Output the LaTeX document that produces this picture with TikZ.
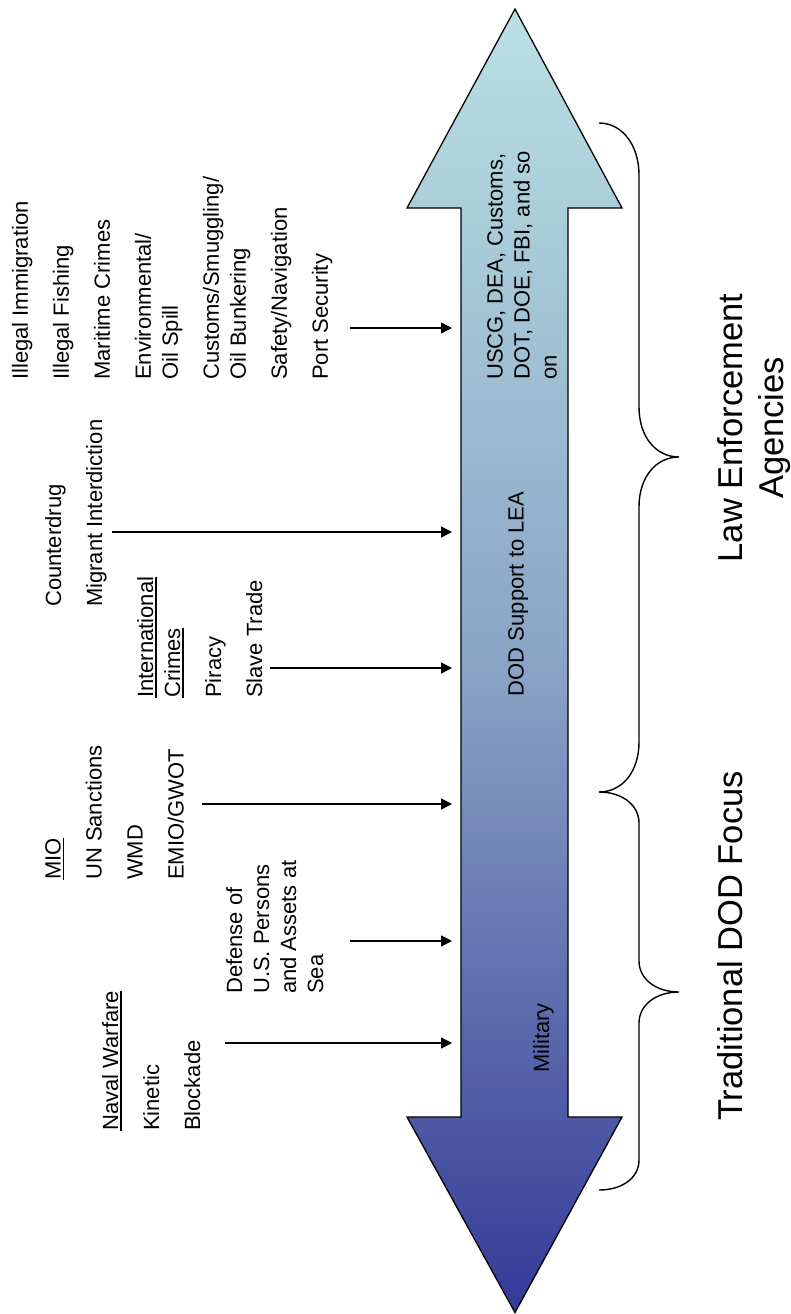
\documentclass[tikz,border=0pt]{standalone}
\usepackage{fontspec}
\setmainfont{Liberation Sans}
\usepackage{tikz}
\usetikzlibrary{arrows.meta}
\definecolor{leaCyan}{RGB}{186,224,228}
\definecolor{midSteel}{RGB}{138,164,197}
\definecolor{milBlue}{RGB}{52,58,152}

\newcommand{\ulhead}[1]{\leavevmode\setbox0=\hbox{#1}\rlap{\vrule height -2.2pt depth 3.9pt width \wd0}\box0}

\begin{document}
\begin{tikzpicture}[
        x=1pt, y=-1pt,
        font=\fontsize{22}{27}\selectfont,
        mission/.style={
          rotate=90, anchor=north west,
          align=left, inner sep=0pt
        },
        inLabel/.style={
          rotate=90, anchor=north,
          align=center, inner sep=0pt
        },
        focusLabel/.style={
          rotate=90, anchor=north,
          align=center, inner sep=0pt,
          font=\fontsize{34.5}{41}\selectfont
        },
        spine/.style={
          draw=black, line width=1.3pt,
          top color=leaCyan, bottom color=milBlue, middle color=midSteel
        },
        arr/.style={-{Triangle[length=11pt, width=11pt]}, line width=1.3pt},
        curly/.style={line width=1.4pt}
      ]

      \useasboundingbox (0,0) rectangle (790,1314);

      % Doppelpfeil
      \path[spine] (515,9) -- (622,208) -- (568,208) -- (568,1117) -- (622,1117)
        -- (515,1312.5) -- (407,1117) -- (461,1117) -- (461,208) -- (407,208) -- cycle;

      % Texte im Pfeil
      \node[mission] (agencies) at (487,380) {USCG, DEA, Customs,\\DOT, DOE, FBI, and so\\on};
      \node[inLabel] (support) at (508,594) {DOD Support to LEA};
      \node[inLabel] (military) at (533,1038) {Military};

      % Aufgaben
      \node[mission] (leaTasks) at (11.7,380) {Illegal Immigration\\[14pt]Illegal Fishing\\[14pt]Maritime Crimes\\[14pt]Environmental/\\Oil Spill\\[14pt]Customs/Smuggling/\\Oil Bunkering\\[14pt]Safety/Navigation\\[14pt]Port Security};
      \node[mission] (drugTasks) at (45,607) {Counterdrug\\[14pt]Migrant Interdiction};
      \node[mission] (crimeTasks) at (137,698) {\ulhead{International}\\\ulhead{Crimes}\\[14pt]Piracy\\[14pt]Slave Trade};
      \node[mission] (mioTasks) at (45,880) {\ulhead{MIO}\\[14pt]UN Sanctions\\[14pt]WMD\\[14pt]EMIO/GWOT};
      \node[mission] (defTasks) at (226,994) {Defense of\\U.S. Persons\\and Assets at\\Sea};
      \node[mission] (navalTasks) at (102,1131) {\ulhead{Naval Warfare}\\[14pt]Kinetic\\[14pt]Blockade};

      % Zuordnung
      \node[focusLabel] (leaLabel) at (717,428) {Law Enforcement\\Agencies};
      \node[focusLabel] (dodLabel) at (717,946) {Traditional DOD Focus};

      % Pfeile zum Schaft
      \coordinate (shaft) at (452,0);
      \coordinate (leaSrc) at (350,328);
      \coordinate (drugSrc) at (112,532);
      \coordinate (crimeSrc) at (270,668);
      \coordinate (mioSrc) at (202,804);
      \coordinate (defSrc) at (350,941);
      \coordinate (navalSrc) at (225,1043);
      \draw[arr] (leaSrc) -- (leaSrc -| shaft);
      \draw[arr] (drugSrc) -- (drugSrc -| shaft);
      \draw[arr] (crimeSrc) -- (crimeSrc -| shaft);
      \draw[arr] (mioSrc) -- (mioSrc -| shaft);
      \draw[arr] (defSrc) -- (defSrc -| shaft);
      \draw[arr] (navalSrc) -- (navalSrc -| shaft);

      % Klammern
      \draw[curly] (599,123) .. controls (622,123) and (639,145) .. (639,175) -- (639,407)
        .. controls (639,437) and (656,457) .. (679,457)
        .. controls (656,457) and (639,477) .. (639,507) -- (639,742)
        .. controls (639,772) and (622,792) .. (599,792);
      \draw[curly] (599,792) .. controls (622,792) and (639,805) .. (639,823) -- (639,961)
        .. controls (639,979) and (656,992) .. (679,992)
        .. controls (656,992) and (639,1005) .. (639,1023) -- (639,1160)
        .. controls (639,1178) and (622,1190) .. (599,1190);

    \end{tikzpicture}
\end{document}
